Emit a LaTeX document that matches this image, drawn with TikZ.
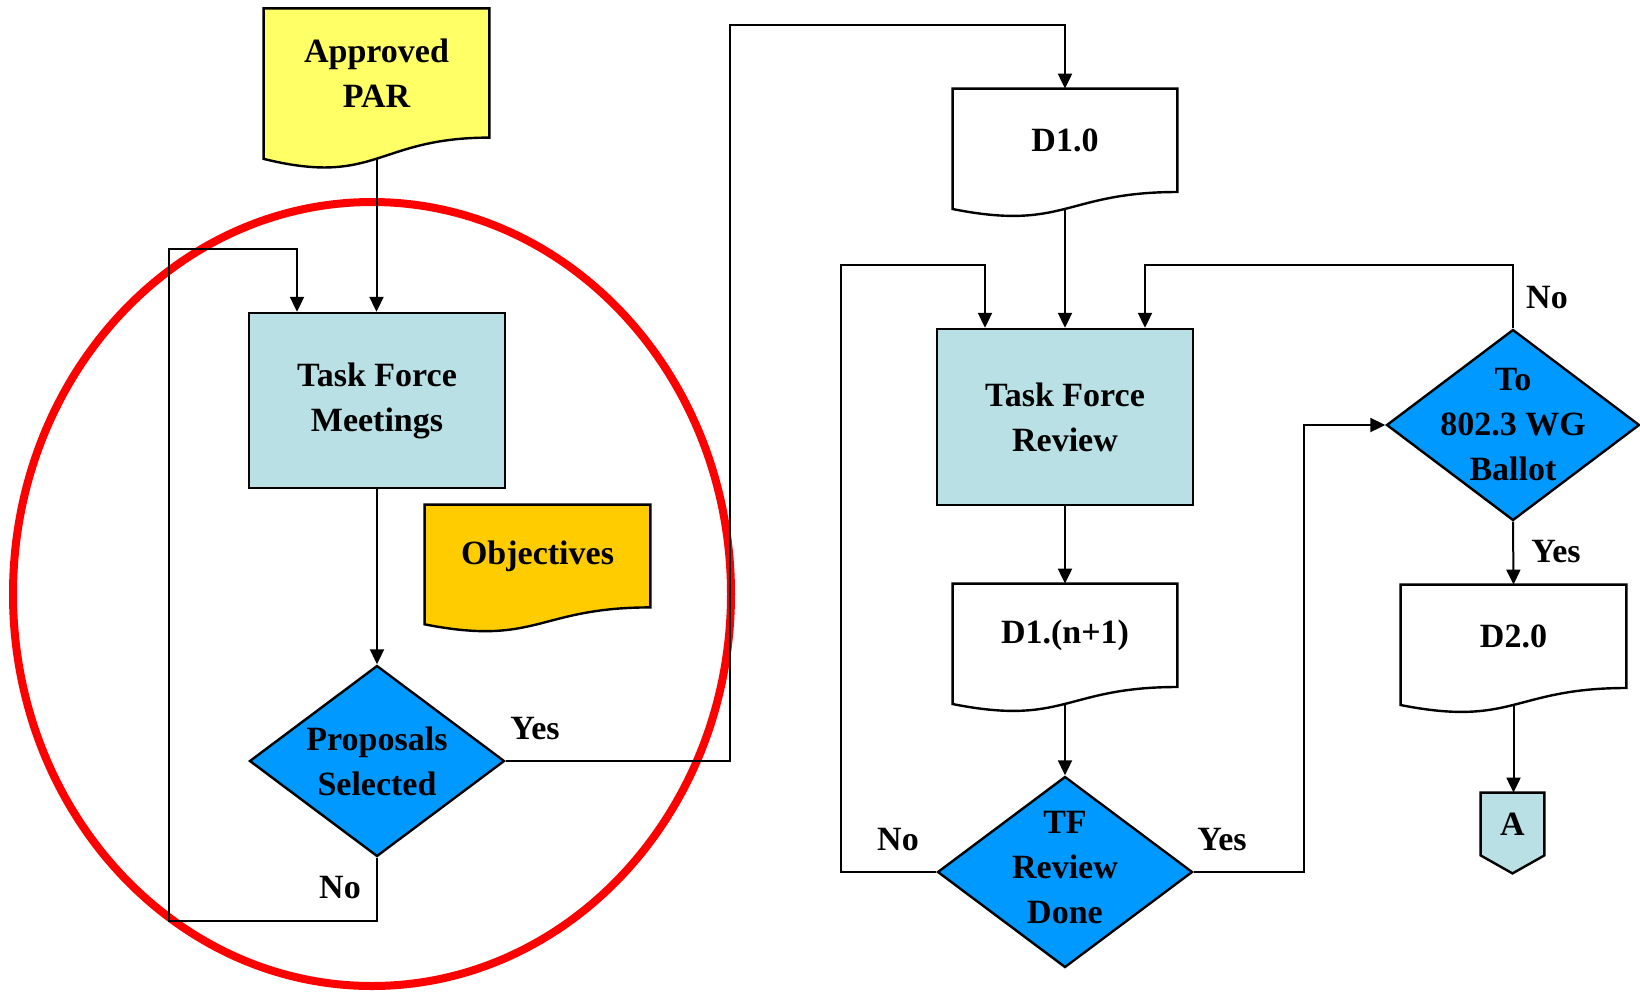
\documentclass[tikz,border=0pt]{standalone}
\usepackage{fontspec}
\setmainfont{Liberation Serif}
\usetikzlibrary{shapes.geometric,arrows.meta,calc,backgrounds}
\definecolor{cYellow}{HTML}{FFFF66}
\definecolor{cLblue}{HTML}{B9E0E4}
\definecolor{cOrange}{HTML}{FFCC00}
\definecolor{cBlue}{HTML}{0099FF}
\definecolor{cRed}{HTML}{FF0000}
\newcommand{\docshape}[2]{%
  \draw[docline, fill=#2] (#1.north west) -- (#1.north east) -- (#1.south east)
    .. controls (#1.south) and ($(#1.north)!1.381!(#1.south)$) ..
    ($(#1.north west)!1.1646!(#1.south west)$) -- cycle;
  \coordinate (#1-b) at ($(#1.north)!1.163!(#1.south)$);}
\tikzset{
  every node/.style={font=\fontsize{17}{22.5}\selectfont\bfseries, align=center, inner sep=0pt},
  box/.style={draw, line width=1.2pt, fill=cLblue, minimum width=128pt, minimum height=88pt},
  dia/.style={diamond, draw, line width=1.2pt, fill=cBlue, minimum width=127.5pt, minimum height=95.5pt},
  doc/.style={minimum width=112.5pt, minimum height=51.3pt},
  docline/.style={draw, line width=1.2pt},
  arr/.style={line width=1pt, -{Triangle[length=7.5pt,width=7pt]}},
  ring/.style={draw=cRed, line width=4pt},
}
\begin{document}
\begin{tikzpicture}[x=0.5pt, y=-0.5pt]
\useasboundingbox (0,0) rectangle (1640,992);

% documents (text areas)
\node[doc, minimum height=64.2pt] (par) at (376.5,73) {Approved\\PAR};
\node[doc, minimum height=51pt] (obj) at (537.5,556) {Objectives};
\node[doc, minimum width=112pt] (d10) at (1065,140.3) {D1.0};
\node[doc, minimum width=112pt] (d1n) at (1065,635.3) {D1.(n+1)};
\node[doc] (d20) at (1513.5,636.3) {D2.0};

% process boxes
\node[box, minimum height=87.5pt] (tfm) at (377,400.5) {Task Force\\Meetings};
\node[box] (tfr) at (1065,417) {Task Force\\Review};

% decisions
\node[dia] (ps) at (377,761) {};
\node (ps-t) at (ps) {Proposals\\Selected};
\node[dia] (tfd) at (1065,872) {};
\node (tfd-t) at ($(tfd)+(0,-4)$) {TF\\Review\\Done};
\node[dia, minimum width=126.5pt] (bal) at (1513,425) {};
\node (bal-t) at (bal) {To\\802.3 WG\\Ballot};

% off-page connector
\node[minimum width=31.5pt, minimum height=31pt] (a) at (1512.5,824) {A};

\begin{scope}[on background layer]
  \draw[ring] (372,594) ellipse [x radius=359, y radius=392];
  \docshape{par}{cYellow}
  \docshape{obj}{cOrange}
  \docshape{d10}{white}
  \docshape{d1n}{white}
  \docshape{d20}{white}
  \draw[docline, fill=cLblue] (a.north west) -- (a.north east) -- (a.south east)
    -- ($(a.south)+(0,18)$) -- (a.south west) -- cycle;
\end{scope}

% bend points
\coordinate (lpA) at (169,921);
\coordinate (lpB) at (169,249);
\coordinate (yA) at (730,25);
\coordinate (nA) at (841,265);
\coordinate (yB) at (1304,425);
\coordinate (nB) at (1145,265);

% connectors
\draw[arr] (par-b) -- (par-b |- tfm.north);
\draw[arr] (tfm.south) -- (ps.north);
\draw[arr] (ps.south) |- (lpA) -- (lpB) -| ($(tfm.north)+(-80,0)$);
\draw[arr] (ps.east) -| (yA) -| (d10.north);
\draw[arr] (d10-b) -- (tfr.north);
\draw[arr] (tfr.south) -- (d1n.north);
\draw[arr] (d1n-b) -- (tfd.north);
\draw[arr] (tfd.west) -| (nA) -| ($(tfr.north)+(-80,0)$);
\draw[arr] (tfd.east) -| (yB) -- (bal.west);
\draw[arr] (bal.north) |- (nB) -- ($(tfr.north)+(80,0)$);
\draw[arr] (bal.south) -- (d20.north);
\draw[arr] (d20-b) -- (d20-b |- a.north);

% labels
\node (l1) at (535,729) {Yes};
\node (l2) at (340,888) {No};
\node (l3) at (898,840) {No};
\node (l4) at (1222,840) {Yes};
\node (l5) at (1547,298) {No};
\node (l6) at (1556,552) {Yes};
\end{tikzpicture}
\end{document}
